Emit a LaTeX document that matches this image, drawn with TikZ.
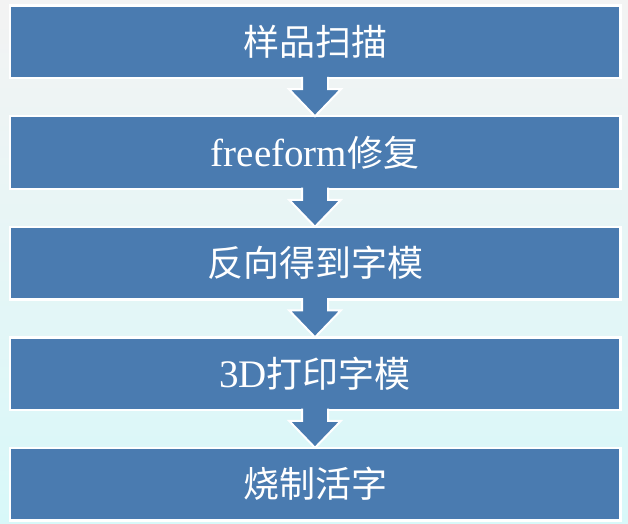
\documentclass[tikz,border=0pt]{standalone}
\usepackage{fontspec}
\setmainfont{Liberation Serif}
\newfontfamily\cjk{Noto Sans CJK SC}
\usetikzlibrary{positioning,calc}
\definecolor{bluebox}{HTML}{4A7BB0}
\definecolor{graytop}{HTML}{F3F3F3}
\definecolor{cyanbottom}{HTML}{D8F8F9}
\newcommand{\latin}[1]{{\fontsize{39}{40}\selectfont\rmfamily #1}}
\tikzset{
  stepbox/.style={draw=white,line width=2.5pt,fill=bluebox,text=white,
    minimum width=610.5pt,minimum height=72.5pt,inner sep=0pt,outer sep=0pt,
    font=\fontsize{36}{40}\selectfont\cjk},
  flowarrow/.style={draw=white,line width=2pt,fill=bluebox,line join=miter}
}
\begin{document}
\begin{tikzpicture}[x=1pt,y=1pt,node distance=38pt]
  \shade[top color=graytop,bottom color=cyanbottom] (0,0) rectangle (628,523);
  \useasboundingbox (0,0) rectangle (628,523);
  % the five steps
  \node[stepbox] (scan) at (315,481) {样品扫描};
  \node[stepbox,below=of scan] (repair) {\latin{freeform}修复};
  \node[stepbox,below=of repair] (mould) {反向得到字模};
  \node[stepbox,below=of mould] (print) {\latin{3D}打印字模};
  \node[stepbox,below=of print] (fire) {烧制活字};
  % block arrows between the steps
  \foreach \a/\b in {scan/repair,repair/mould,mould/print,print/fire}
    \path[flowarrow] ($(\a.south)+(-13,1.25)$) -- ($(\a.south)+(-13,-11)$)
      -- ($(\a.south)+(-26,-11)$) -- (\b.north) -- ($(\a.south)+(26,-11)$)
      -- ($(\a.south)+(13,-11)$) -- ($(\a.south)+(13,1.25)$);
\end{tikzpicture}
\end{document}
